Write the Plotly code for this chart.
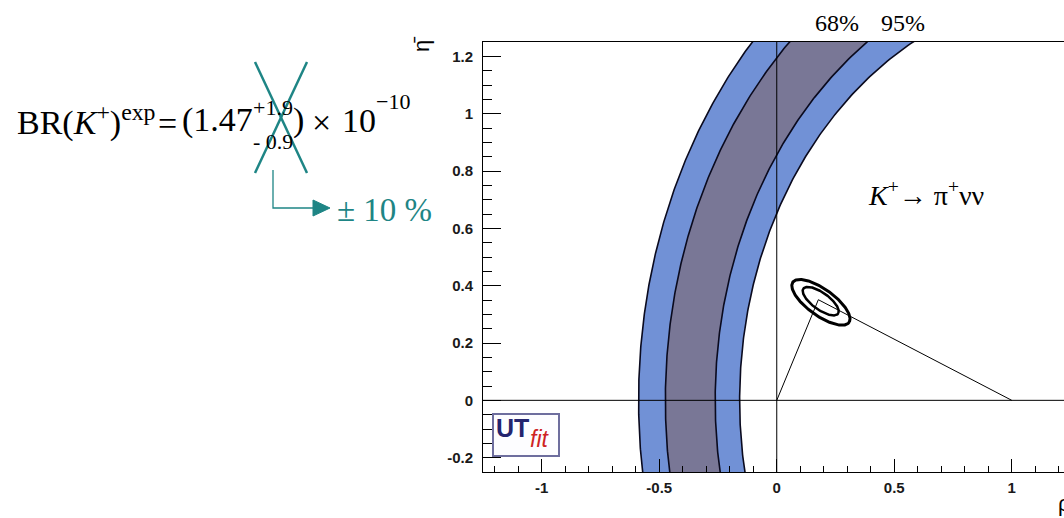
import numpy as np
import plotly.graph_objects as go

# ---- K+ -> pi+ nu nu constraint: circular bands in the (rho-bar, eta-bar) plane ----
rho_center = 1.27
radii_95 = [1.858, 1.428]   # outer / inner edge of the 95% band
radii_68 = [1.744, 1.532]   # outer / inner edge of the 68% band
band_labels = ["68%", "95%"]

# ---- global fit contours (ellipses) ----
ell_center_68 = [0.187, 0.346]
ell_axes_68 = [0.086, 0.031]
ell_center_95 = [0.188, 0.342]
ell_axes_95 = [0.139, 0.049]
ell_angle_deg = -29.0

# ---- unitarity triangle ----
tri_rho = [0.0, 0.177, 1.0]
tri_eta = [0.0, 0.351, 0.0]

# ---- axes ----
x_tickvals = [-1, -0.5, 0, 0.5, 1]
x_ticktext = ["-1", "-0.5", "0", "0.5", "1"]
y_tickvals = [-0.2, 0, 0.2, 0.4, 0.6, 0.8, 1.0, 1.2]
y_ticktext = ["-0.2", "0", "0.2", "0.4", "0.6", "0.8", "1", "1.2"]

BLUE = "#7191D6"
GREY = "#797796"
TEAL = "#1E8585"
SERIF = "Liberation Serif"
SANS = "Liberation Sans"

W, H = 1064, 518
L, R, T, B = 483, 1064, 42, 472


def px(x):
    return (x - L) / (R - L)


def py(y):
    return (B - y) / (B - T)


eta = np.linspace(-0.4, 1.4, 300)


def arc(radius):
    return rho_center - np.sqrt(radius ** 2 - eta ** 2)


def ring(r_out, r_in):
    xs = np.concatenate([arc(r_out), arc(r_in)[::-1]])
    ys = np.concatenate([eta, eta[::-1]])
    return xs, ys


def ellipse(center, axes, angle_deg):
    t = np.linspace(0, 2 * np.pi, 240)
    th = np.radians(angle_deg)
    a, b = axes
    xs = center[0] + a * np.cos(t) * np.cos(th) - b * np.sin(t) * np.sin(th)
    ys = center[1] + a * np.cos(t) * np.sin(th) + b * np.sin(t) * np.cos(th)
    return xs, ys


fig = go.Figure()

# 95% band, then 68% band over it
x95, y95 = ring(*radii_95)
fig.add_trace(go.Scatter(x=x95, y=y95, fill="toself", fillcolor=BLUE,
                         line=dict(width=0), mode="lines", hoverinfo="skip"))
x68, y68 = ring(*radii_68)
fig.add_trace(go.Scatter(x=x68, y=y68, fill="toself", fillcolor=GREY,
                         line=dict(width=0), mode="lines", hoverinfo="skip"))
# band edges
for r in radii_95 + radii_68:
    fig.add_trace(go.Scatter(x=arc(r), y=eta, mode="lines",
                             line=dict(color="#0a0a1e", width=1.6), hoverinfo="skip"))

# triangle
fig.add_trace(go.Scatter(x=tri_rho, y=tri_eta, mode="lines",
                         line=dict(color="black", width=1), hoverinfo="skip"))

# fit contours
ex, ey = ellipse(ell_center_95, ell_axes_95, ell_angle_deg)
fig.add_trace(go.Scatter(x=ex, y=ey, mode="lines",
                         line=dict(color="black", width=3), hoverinfo="skip"))
ex, ey = ellipse(ell_center_68, ell_axes_68, ell_angle_deg)
fig.add_trace(go.Scatter(x=ex, y=ey, mode="lines",
                         line=dict(color="black", width=2.5), hoverinfo="skip"))

tickfont = dict(family=SANS, size=15, color="#1a1a1a", weight="bold")
x_max = -1.25 + (R - L) / 235.0

fig.update_xaxes(
    range=[-1.25, x_max], showgrid=False, zeroline=False,
    showline=True, linecolor="black", linewidth=1, mirror=True,
    ticks="inside", ticklen=13, tickcolor="black", tickwidth=1,
    tickvals=x_tickvals, ticktext=x_ticktext, tickfont=tickfont,
    ticklabelstandoff=2,
    minor=dict(tickmode="linear", tick0=0, dtick=0.1, ticks="inside",
               ticklen=6, tickcolor="black", tickwidth=1),
)
fig.update_yaxes(
    range=[-0.25, 1.25], showgrid=False, zeroline=False,
    showline=True, linecolor="black", linewidth=1, mirror=False,
    ticks="inside", ticklen=18, tickcolor="black", tickwidth=1,
    tickvals=y_tickvals, ticktext=y_ticktext, tickfont=tickfont,
    ticklabelstandoff=6,
    minor=dict(tickmode="linear", tick0=0, dtick=0.05, ticks="inside",
               ticklen=9, tickcolor="black", tickwidth=1),
)

shapes = [
    # rho = 0 and eta = 0 reference lines
    dict(type="line", xref="x", yref="paper", x0=0, x1=0, y0=0, y1=1,
         line=dict(color="black", width=1), layer="above"),
    dict(type="line", xref="paper", yref="y", x0=0, x1=1, y0=0, y1=0,
         line=dict(color="black", width=1), layer="above"),
    # UTfit logo frame
    dict(type="rect", xref="paper", yref="paper",
         x0=px(493), x1=px(559), y0=py(456), y1=py(414),
         line=dict(color="#6E6E9E", width=2), fillcolor="#FDFDFF", layer="above"),
    # crossed-out asymmetric error
    dict(type="line", xref="paper", yref="paper", x0=px(255), y0=py(62), x1=px(307), y1=py(173),
         line=dict(color=TEAL, width=2.5)),
    dict(type="line", xref="paper", yref="paper", x0=px(307), y0=py(62), x1=px(255), y1=py(173),
         line=dict(color=TEAL, width=2.5)),
    # elbow arrow to the new error
    dict(type="path", xref="paper", yref="paper",
         path=f"M {px(273)} {py(170)} L {px(273)} {py(208)} L {px(318)} {py(208)}",
         line=dict(color=TEAL, width=1.3)),
    dict(type="path", xref="paper", yref="paper",
         path=f"M {px(313)} {py(200)} L {px(330)} {py(208)} L {px(313)} {py(216)} Z",
         line=dict(color=TEAL, width=1), fillcolor=TEAL),
]

annotations = []


def note(text, x, y, size, color="black", family=SERIF, xanchor="left",
         yanchor="middle", textangle=0, weight="normal"):
    annotations.append(dict(
        text=text, x=px(x), y=py(y), xref="paper", yref="paper",
        xanchor=xanchor, yanchor=yanchor, showarrow=False, textangle=textangle,
        font=dict(family=family, size=size, color=color, weight=weight)))


# branching ratio expression
note("BR(<i>K</i><sup>+</sup>)<sup>exp</sup>", 15, 120, 34)
note("=", 156, 123, 34)
note("(1.47", 180, 120, 34)
note("+1.9", 251, 107, 22)
note("- 0.9", 251, 141, 22)
note(")", 291, 120, 34)
note("×", 310, 122, 34)
note("10", 340, 120, 34)
note("−10", 374, 101, 22)
note("± 10 %", 335, 210, 33, color=TEAL)

# band labels above the frame
note(band_labels[0], 837, 23, 24, xanchor="center")
note(band_labels[1], 903, 23, 24, xanchor="center")

# process label
note("<i>K</i><sup>+</sup>→ π<sup>+</sup>νν", 866, 193, 28)

# axis titles
note("η̄", 421, 45, 22, family=SANS, xanchor="center", textangle=-90)
note("ρ̄", 1056, 503, 22, family=SANS)

# logo text
note("UT", 494, 428, 25, color="#24246E", family=SANS, weight="bold")
note("<i>fit</i>", 528, 439, 23, color="#CF2424", family=SANS)

fig.update_layout(
    width=W, height=H,
    margin=dict(l=L, r=W - R, t=T, b=H - B, pad=0),
    paper_bgcolor="white", plot_bgcolor="white",
    showlegend=False, shapes=shapes, annotations=annotations,
)

fig.write_html("out.html")
